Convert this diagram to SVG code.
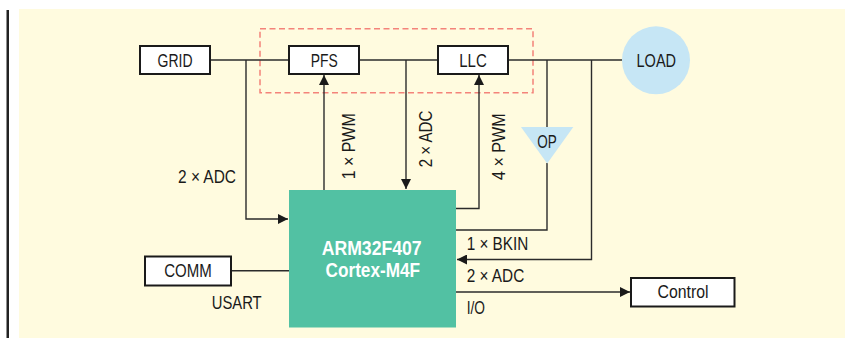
<svg xmlns="http://www.w3.org/2000/svg" width="845" height="338" viewBox="0 0 845 338">
<defs>
<style>
.bg{fill:#FFFBDF}
.box{fill:#FFFFFF;stroke:#1A1A1A;stroke-width:2}
.ln{fill:none;stroke:#2B2B2B;stroke-width:1.4}
.t{font-family:"Liberation Sans Narrow","Liberation Sans",Arial,sans-serif;font-size:19px;fill:#1A1A1A}
.mc{font-family:"Liberation Sans Narrow","Liberation Sans",Arial,sans-serif;font-size:21px;font-weight:bold;fill:#FFFFFF}
.blue{fill:#C6E6F5}
</style>
<marker id="ah" viewBox="0 0 10 10" refX="10" refY="5" markerWidth="10" markerHeight="10" markerUnits="userSpaceOnUse" orient="auto">
<path d="M0,0 L10,5 L0,10 Z" fill="#1A1A1A"/>
</marker>
</defs>
<rect x="0" y="0" width="845" height="338" fill="#FFFFFF"/>
<rect class="bg" x="19" y="9" width="826" height="329"/>
<rect x="6.5" y="10" width="2.5" height="328" fill="#222222"/>
<rect x="260" y="28.7" width="273" height="64" fill="none" stroke="#F4837A" stroke-width="1.5" stroke-dasharray="6,3.5"/>

<g id="connectors">
<path class="ln" d="M210,60 H289"/>
<path class="ln" d="M359,60 H438"/>
<path class="ln" d="M508,60 H622"/>
<path class="ln" d="M246,60 V219 H288" marker-end="url(#ah)"/>
<path class="ln" d="M324,190 V75" marker-end="url(#ah)"/>
<path class="ln" d="M406,60 V189" marker-end="url(#ah)"/>
<path class="ln" d="M456,208.5 H479 V75" marker-end="url(#ah)"/>
<path class="ln" d="M547,60 V127"/>
<path class="ln" d="M547,163 V230 H456"/>
<path class="ln" d="M591.5,60 V259.5 H457" marker-end="url(#ah)"/>
<path class="ln" d="M456,292 H630" marker-end="url(#ah)"/>
<path class="ln" stroke="#555555" d="M231,270.7 H289"/>
</g>

<g id="grid">
<rect class="box" x="140" y="46" width="70" height="28"/>
<text class="t" x="175" y="66.7" text-anchor="middle" textLength="35" lengthAdjust="spacingAndGlyphs">GRID</text>
</g>
<g id="pfs">
<rect class="box" x="289" y="46" width="70" height="28"/>
<text class="t" x="324.3" y="66.7" text-anchor="middle" textLength="27" lengthAdjust="spacingAndGlyphs">PFS</text>
</g>
<g id="llc">
<rect class="box" x="438" y="46" width="70" height="28"/>
<text class="t" x="473" y="66.7" text-anchor="middle" textLength="27.5" lengthAdjust="spacingAndGlyphs">LLC</text>
</g>
<g id="load">
<circle class="blue" cx="656" cy="60.3" r="34"/>
<text class="t" x="656.3" y="66.7" text-anchor="middle" textLength="39.5" lengthAdjust="spacingAndGlyphs">LOAD</text>
</g>
<g id="op">
<polygon class="blue" points="521,127 573.3,127 547.2,163.5"/>
<text class="t" x="547" y="148.3" text-anchor="middle" textLength="19.5" lengthAdjust="spacingAndGlyphs">OP</text>
</g>
<g id="mcu">
<rect x="289" y="190" width="167" height="137.5" fill="#52C1A3"/>
<text class="mc" x="371.7" y="255" text-anchor="middle" textLength="100" lengthAdjust="spacingAndGlyphs">ARM32F407</text>
<text class="mc" x="372.8" y="277.3" text-anchor="middle" textLength="94.5" lengthAdjust="spacingAndGlyphs">Cortex-M4F</text>
</g>
<g id="comm">
<rect class="box" x="145" y="256.5" width="86" height="29"/>
<text class="t" x="188" y="277.3" text-anchor="middle" textLength="47.5" lengthAdjust="spacingAndGlyphs">COMM</text>
</g>
<g id="control">
<rect class="box" x="631" y="278" width="103.5" height="28.5"/>
<text class="t" x="683" y="298.3" text-anchor="middle" textLength="51" lengthAdjust="spacingAndGlyphs">Control</text>
</g>

<g id="labels">
<text class="t" x="178" y="183" textLength="58" lengthAdjust="spacingAndGlyphs">2 × ADC</text>
<text class="t" transform="translate(355,179.3) rotate(-90)" textLength="66" lengthAdjust="spacingAndGlyphs">1 × PWM</text>
<text class="t" transform="translate(431.7,167.3) rotate(-90)" textLength="56.6" lengthAdjust="spacingAndGlyphs">2 × ADC</text>
<text class="t" transform="translate(505,180) rotate(-90)" textLength="66.7" lengthAdjust="spacingAndGlyphs">4 × PWM</text>
<text class="t" x="466.7" y="250" textLength="61.6" lengthAdjust="spacingAndGlyphs">1 × BKIN</text>
<text class="t" x="466.7" y="281.7" textLength="57.6" lengthAdjust="spacingAndGlyphs">2 × ADC</text>
<text class="t" x="466.7" y="314.3" textLength="18.3" lengthAdjust="spacingAndGlyphs">I/O</text>
<text class="t" x="211.7" y="309" textLength="50" lengthAdjust="spacingAndGlyphs">USART</text>
</g>
</svg>
